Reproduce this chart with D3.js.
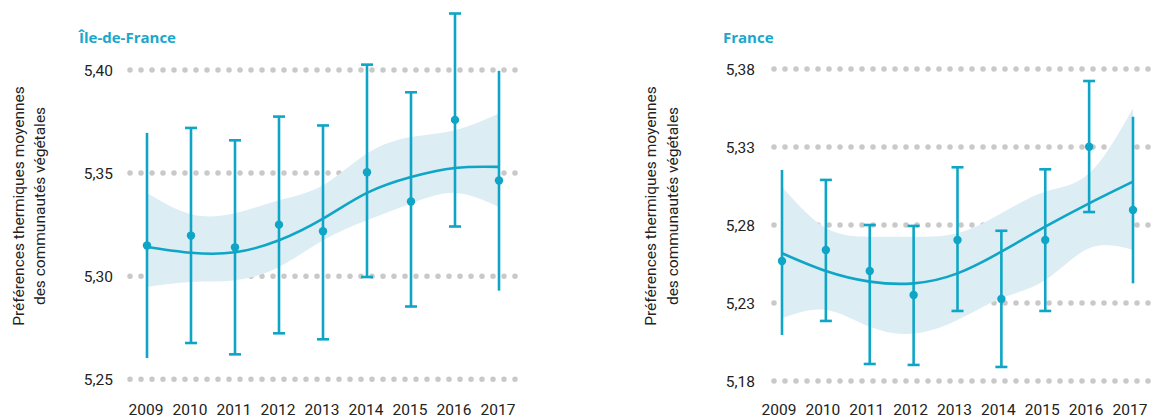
<!DOCTYPE html>
<html>
<head>
<meta charset="utf-8">
<script src="https://cdn.jsdelivr.net/npm/d3@7"></script>
<style>
  body { margin: 0; background: #fff; }
  text { font-family: Roboto, "Noto Sans", sans-serif; }
</style>
</head>
<body>
<svg width="1158" height="419"></svg>
<script>
// years shared by both panels
const years = [2009, 2010, 2011, 2012, 2013, 2014, 2015, 2016, 2017];

// Île-de-France
const idfMean = [5.3149, 5.3197, 5.3140, 5.3250, 5.3218, 5.3504, 5.3362, 5.3758, 5.3464];
const idfLow  = [5.2603, 5.2676, 5.2621, 5.2723, 5.2694, 5.2996, 5.2853, 5.3241, 5.2930];
const idfHigh = [5.3695, 5.3719, 5.3659, 5.3774, 5.3731, 5.4026, 5.3892, 5.4274, 5.3996];
const idfFit  = [5.3142, 5.3114, 5.3116, 5.3174, 5.3279, 5.3404, 5.3481, 5.3525, 5.3530];
const idfBandLow  = [5.2948, 5.2972, 5.2980, 5.3045, 5.3174, 5.3271, 5.3352, 5.3404, 5.3336];
const idfBandHigh = [5.3403, 5.3300, 5.3305, 5.3368, 5.3441, 5.3595, 5.3675, 5.3708, 5.3789];
const idfTicks = [5.25, 5.30, 5.35, 5.40];

// France
const frMean = [5.2569, 5.2640, 5.2505, 5.2351, 5.2704, 5.2326, 5.2704, 5.3302, 5.2896];
const frLow  = [5.2095, 5.2185, 5.1909, 5.1903, 5.2249, 5.1890, 5.2249, 5.2883, 5.2426];
const frHigh = [5.3153, 5.3089, 5.2800, 5.2794, 5.3170, 5.2763, 5.3157, 5.3723, 5.3494];
const frFit  = [5.2619, 5.2505, 5.2437, 5.2426, 5.2490, 5.2629, 5.2789, 5.2939, 5.3078];
const frBandLow  = [5.2202, 5.2255, 5.2148, 5.2104, 5.2191, 5.2330, 5.2447, 5.2651, 5.2640];
const frBandHigh = [5.3045, 5.2780, 5.2725, 5.2725, 5.2747, 5.2875, 5.3013, 5.3131, 5.3548];
const frTicks = [5.18, 5.23, 5.28, 5.33, 5.38];

const teal = '#0ea5c6',
      band = '#dcedf4',
      grid = '#c9c9c9';

const fmt = d3.formatLocale({decimal: ',', thousands: ' ', grouping: [3], currency: ['', '€']}).format('.2f');

const svg = d3.select('svg');

function panel(o) {
  const x = d3.scalePoint().domain(years).range(o.xr);
  const y = d3.scaleLinear().domain(o.yd).range(o.yr);
  const g = svg.append('g');

  // dotted gridlines
  g.selectAll('.grid')
    .data(o.ticks)
    .enter().append('line')
    .attr('x1', o.gx[0]).attr('x2', o.gx[1])
    .attr('y1', d => y(d)).attr('y2', d => y(d))
    .attr('stroke', grid)
    .attr('stroke-width', 5.5)
    .attr('stroke-linecap', 'round')
    .attr('stroke-dasharray', '0 11');

  g.selectAll('.tick')
    .data(o.ticks)
    .enter().append('text')
    .attr('x', o.tx).attr('y', d => y(d))
    .attr('dy', '0.36em')
    .attr('text-anchor', 'end')
    .attr('font-size', 15.5)
    .attr('fill', '#222')
    .text(d => fmt(d));

  // confidence ribbon
  const area = d3.area()
    .curve(d3.curveNatural)
    .x((d, i) => x(years[i]))
    .y0((d, i) => y(o.bandLow[i]))
    .y1(d => y(d));
  g.append('path')
    .datum(o.bandHigh)
    .attr('fill', band)
    .attr('d', area);

  // fitted curve
  const line = d3.line()
    .curve(d3.curveNatural)
    .x((d, i) => x(years[i]))
    .y(d => y(d));
  g.append('path')
    .datum(o.fit)
    .attr('fill', 'none')
    .attr('stroke', teal)
    .attr('stroke-width', 2.6)
    .attr('d', line);

  // error bars
  const bars = g.selectAll('.bar')
    .data(years)
    .enter().append('g');
  bars.append('line')
    .attr('x1', d => x(d)).attr('x2', d => x(d))
    .attr('y1', (d, i) => y(o.low[i]))
    .attr('y2', (d, i) => y(o.high[i]))
    .attr('stroke', teal).attr('stroke-width', 2.6);
  [o.low, o.high].forEach(arr => {
    bars.filter((d, i) => i > 0 && i < years.length - 1)
      .append('line')
      .attr('x1', d => x(d) - 6).attr('x2', d => x(d) + 6)
      .attr('y1', d => y(arr[years.indexOf(d)]))
      .attr('y2', d => y(arr[years.indexOf(d)]))
      .attr('stroke', teal).attr('stroke-width', 2.6);
  });
  bars.append('circle')
    .attr('cx', d => x(d))
    .attr('cy', (d, i) => y(o.mean[i]))
    .attr('r', 4.2)
    .attr('fill', teal);

  // year labels
  g.selectAll('.year')
    .data(years)
    .enter().append('text')
    .attr('x', d => x(d) + o.lx)
    .attr('y', 415)
    .attr('text-anchor', 'middle')
    .attr('font-size', 15.5)
    .attr('fill', '#222')
    .text(d => d);

  // title
  g.append('text')
    .attr('x', o.title[0]).attr('y', 43)
    .attr('font-size', 15)
    .attr('font-weight', 'bold')
    .attr('fill', '#1aa7cc')
    .style('font-family', '"Open Sans", Roboto, sans-serif')
    .text(o.title[1]);

  // axis title, two lines
  ['Préférences thermiques moyennes', 'des communautés végétales'].forEach((t, i) => {
    g.append('text')
      .attr('transform', `translate(${o.ax[i]},206) rotate(-90)`)
      .attr('text-anchor', 'middle')
      .attr('font-size', 15.5)
      .attr('fill', '#222')
      .text(t);
  });
}

panel({
  xr: [147, 499], yd: [5.25, 5.40], yr: [379.3, 70],
  gx: [130, 522], tx: 113, lx: -1, ticks: idfTicks,
  mean: idfMean, low: idfLow, high: idfHigh, fit: idfFit,
  bandLow: idfBandLow, bandHigh: idfBandHigh,
  title: [79, 'Île-de-France'], ax: [24, 45]
});

panel({
  xr: [782, 1133], yd: [5.18, 5.38], yr: [381, 69],
  gx: [774, 1154], tx: 755, lx: -3, ticks: frTicks,
  mean: frMean, low: frLow, high: frHigh, fit: frFit,
  bandLow: frBandLow, bandHigh: frBandHigh,
  title: [723, 'France'], ax: [656, 678]
});
</script>
</body>
</html>
